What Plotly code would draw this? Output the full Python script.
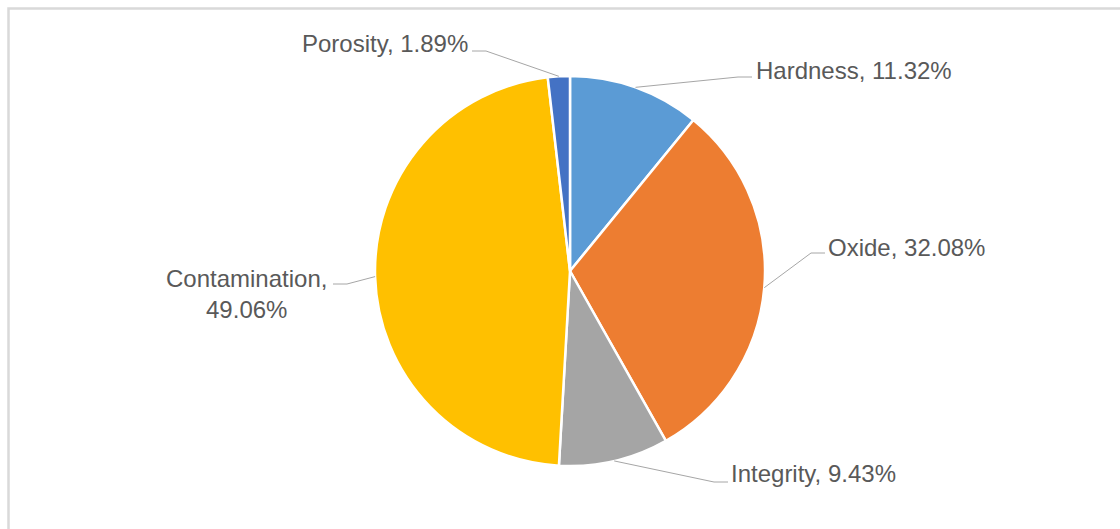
import math
import plotly.graph_objects as go

# ---- data ----
categories = ["Hardness", "Oxide", "Integrity", "Contamination", "Porosity"]
values = [11.32, 32.08, 9.43, 49.06, 1.89]
label_texts = ["Hardness, 11.32%", "Oxide, 32.08%", "Integrity, 9.43%",
               "Contamination,<br>49.06%", "Porosity, 1.89%"]
colors = ["#5B9BD5", "#ED7D31", "#A5A5A5", "#FFC000", "#4472C4"]

# ---- layout (pixels) ----
W, H = 1120, 529
CX, CY, R = 570, 271, 195
# text anchor position, anchor side, leader end position
text_pos = [(754, 71), (826, 247), (729, 473), (329, 294), (470, 43)]
text_side = ["left", "left", "left", "right", "right"]
leader_end = [(752, 77), (825, 253), (728, 482), (333, 284), (472, 51)]
ELBOW = 14

def px(x):
    return x / W

def py(y):
    return 1 - y / H

fig = go.Figure(go.Pie(
    labels=categories, values=values, sort=False, direction="clockwise",
    rotation=0, textinfo="none", hoverinfo="label+percent",
    marker=dict(colors=colors, line=dict(color="white", width=2.5)),
    domain=dict(x=[px(CX - R), px(CX + R)], y=[py(CY + R), py(CY - R)]),
    showlegend=False,
))

total = sum(values)
cum = 0.0
shapes = []
annotations = []
for i, v in enumerate(values):
    mid = (cum + v / 2) / total * 2 * math.pi
    cum += v
    ex = CX + R * math.sin(mid)
    ey = CY - R * math.cos(mid)
    lx, ly = leader_end[i]
    d = 1 if text_side[i] == "left" else -1
    bx = lx - d * ELBOW
    path = f"M {px(ex)},{py(ey)} L {px(bx)},{py(ly)} L {px(lx)},{py(ly)}"
    shapes.append(dict(type="path", xref="paper", yref="paper", path=path,
                       line=dict(color="#A6A6A6", width=1)))
    tx, ty = text_pos[i]
    annotations.append(dict(
        x=px(tx), y=py(ty), xref="paper", yref="paper", text=label_texts[i],
        showarrow=False, xanchor=text_side[i], yanchor="middle", align="center",
        font=dict(family="Liberation Sans, Arial, sans-serif", size=24, color="#595959"),
    ))

# chart border
shapes.append(dict(type="rect", xref="paper", yref="paper",
                   x0=px(8.5), y0=-0.05, x1=1.05, y1=py(8.5),
                   line=dict(color="#D9D9D9", width=2.5), fillcolor="rgba(0,0,0,0)"))

fig.update_layout(
    width=W, height=H, margin=dict(l=0, r=0, t=0, b=0),
    paper_bgcolor="white", plot_bgcolor="white",
    shapes=shapes, annotations=annotations,
)

fig.write_html("out.html")
